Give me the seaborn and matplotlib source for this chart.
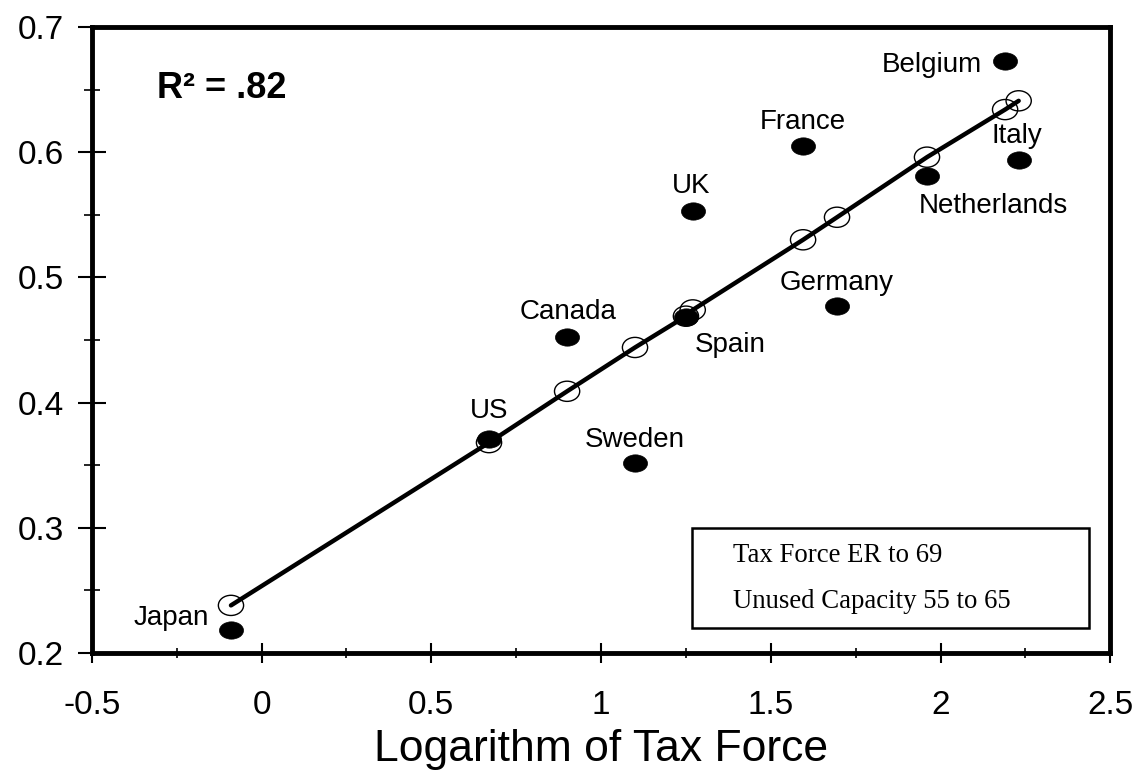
import numpy as np
import matplotlib
matplotlib.use("Agg")
import matplotlib.pyplot as plt
import seaborn as sns
from matplotlib.path import Path
from matplotlib.transforms import Affine2D
from matplotlib.patches import Rectangle
from matplotlib.ticker import MultipleLocator

# --- data ---
countries = ["Japan", "US", "Canada", "Sweden", "Spain", "UK",
             "France", "Germany", "Netherlands", "Belgium", "Italy"]
tax_force = [-0.09, 0.67, 0.90, 1.10, 1.25, 1.27, 1.595, 1.695, 1.96, 2.19, 2.23]
unused_capacity = [0.218, 0.371, 0.452, 0.352, 0.468, 0.553, 0.605, 0.477, 0.581, 0.673, 0.594]
fitted_capacity = [0.238, 0.368, 0.409, 0.444, 0.469, 0.474, 0.530, 0.548, 0.596, 0.634, 0.641]
r2_text = "R\u00b2 = .82"
legend_lines = ["Tax Force ER to 69", "Unused Capacity 55 to 65"]
x_ticks = [-0.5, 0, 0.5, 1, 1.5, 2, 2.5]
x_tick_labels = ["-0.5", "0", "0.5", "1", "1.5", "2", "2.5"]
y_ticks = [0.2, 0.3, 0.4, 0.5, 0.6, 0.7]

# label placement (offset points from the dot)
label_offsets = {
    "Japan": (-43, 9), "US": (0, 20), "Canada": (1, 18), "Sweden": (0, 16),
    "Spain": (32, -20), "UK": (-1, 18), "France": (0, 17), "Germany": (0, 17),
    "Netherlands": (48, -22), "Belgium": (-53, -3), "Italy": (-1, 17),
}

sns.set_style("ticks")
plt.rcParams["font.family"] = ["Liberation Sans", "DejaVu Sans"]
plt.rcParams.update({"text.color": "black", "axes.labelcolor": "black",
                     "xtick.color": "black", "ytick.color": "black"})

fig = plt.figure(figsize=(11.33, 7.7), dpi=100)
ax = fig.add_axes([0.081, 0.152, 0.899, 0.813])

filled_dot = Path.unit_circle().transformed(Affine2D().scale(1, 0.72))
open_dot = Path.unit_circle().transformed(Affine2D().scale(1, 0.8))

sns.lineplot(x=tax_force, y=fitted_capacity, color="black", lw=3.2,
             sort=True, estimator=None, ax=ax, zorder=2)
sns.scatterplot(x=tax_force, y=fitted_capacity, marker=open_dot, s=330,
                facecolor="none", edgecolor="black", linewidth=1.0, ax=ax, zorder=3)
sns.scatterplot(x=tax_force, y=unused_capacity, marker=filled_dot, s=300,
                color="black", edgecolor="black", linewidth=0.5, ax=ax, zorder=4)

for name, xv, yv in zip(countries, tax_force, unused_capacity):
    dx, dy = label_offsets[name]
    ax.annotate(name, (xv, yv), xytext=(dx, dy), textcoords="offset points",
                ha="center", va="center", fontsize=20, color="black")

ax.text(0.064, 0.901, r2_text, transform=ax.transAxes, ha="left", va="center",
        fontsize=26, fontweight="bold", color="black")

# key box in the lower right
ax.add_patch(Rectangle((0.589, 0.04), 0.39, 0.16, transform=ax.transAxes,
                       facecolor="white", edgecolor="black", lw=1.8, zorder=5))
for ypos, line in zip([0.155, 0.082], legend_lines):
    ax.text(0.63, ypos, line, transform=ax.transAxes, ha="left", va="center",
            fontsize=19.3, color="black",
            family=["Liberation Serif", "DejaVu Serif"], zorder=6)

ax.set_xlim(-0.5, 2.5)
ax.set_ylim(0.2, 0.7)
ax.set_xticks(x_ticks)
ax.set_xticklabels(x_tick_labels)
ax.set_yticks(y_ticks)
ax.xaxis.set_minor_locator(MultipleLocator(0.25))
ax.yaxis.set_minor_locator(MultipleLocator(0.05))

ax.tick_params(axis="x", which="major", direction="inout", length=14, width=1.5,
               pad=19.5, labelsize=24, colors="black")
ax.tick_params(axis="x", which="minor", direction="inout", length=7, width=1.2)
ax.tick_params(axis="y", which="major", direction="inout", length=20, width=1.5,
               pad=10, labelsize=24, colors="black")
ax.tick_params(axis="y", which="minor", direction="inout", length=12, width=1.2)

for sp in ax.spines.values():
    sp.set_visible(True)
    sp.set_linewidth(3.5)
    sp.set_color("black")

ax.set_xlabel("Logarithm of Tax Force", fontsize=32, labelpad=6)
ax.set_ylabel("")

fig.savefig("out.png", dpi=100)
